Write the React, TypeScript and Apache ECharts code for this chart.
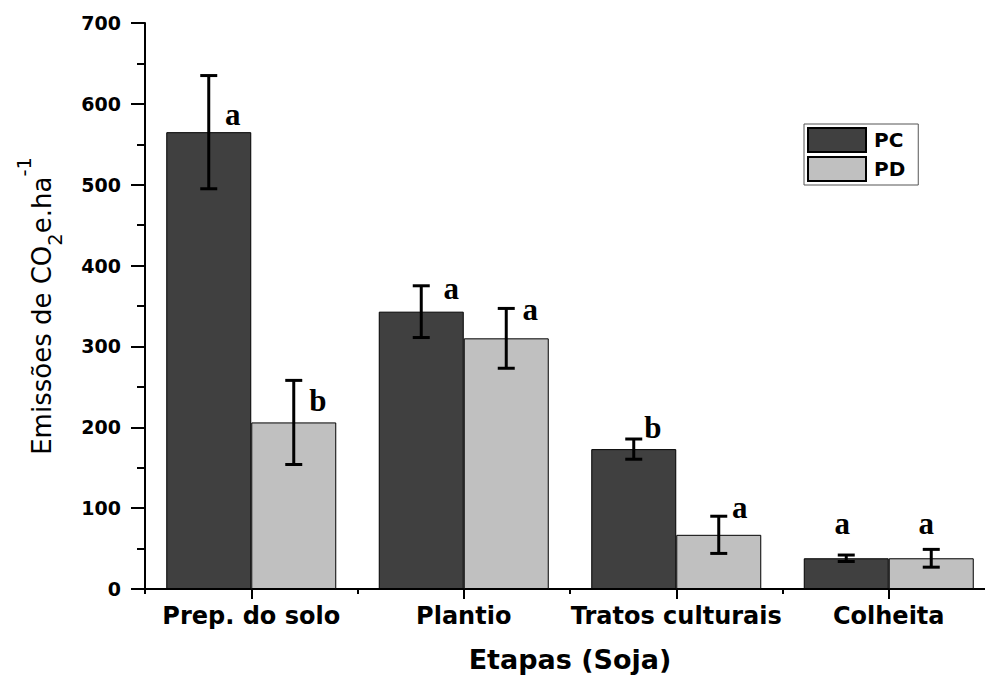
import React, { useEffect, useRef } from "react";
import * as echarts from "echarts";

const categories = ["Prep. do solo", "Plantio", "Tratos culturais", "Colheita"];
const pcValues = [565, 343, 173, 38];
const pdValues = [206, 310, 67, 38];
const pcErrors = [70, 32, 12.5, 4];
const pdErrors = [52, 37, 23, 11];
const pcLetters = ["a", "a", "b", "a"];
const pdLetters = ["b", "a", "a", "a"];
const pcLetterAt = [574, 359, 187, 69];
const pdLetterAt = [221, 333, 89, 69];

// layout-only: horizontal shift (px) of each significance letter from its bar centre
const pcLetterDx = [24, 30, 19, -4];
const pdLetterDx = [24, 24, 21, -5];

const SANS = '"DejaVu Sans"';
const SERIF = '"Liberation Serif"';

function errorSeries(values: number[], errors: number[], side: number) {
  return {
    type: "custom",
    xAxisIndex: 0,
    yAxisIndex: 0,
    silent: true,
    z: 5,
    encode: { x: 0, y: [1, 2] },
    data: values.map((v, i) => [i, v - errors[i], v + errors[i]]),
    renderItem: (params: any, api: any) => {
      const ci = api.value(0);
      const lo = api.coord([ci, api.value(1)]);
      const hi = api.coord([ci, api.value(2)]);
      const band = api.size([1, 0])[0];
      const x = lo[0] + side * band * 0.2;
      const cap = 8.5;
      const style = { stroke: "#000", lineWidth: 3 };
      return {
        type: "group",
        children: [
          { type: "line", shape: { x1: x, y1: lo[1], x2: x, y2: hi[1] }, style },
          { type: "line", shape: { x1: x - cap, y1: lo[1], x2: x + cap, y2: lo[1] }, style },
          { type: "line", shape: { x1: x - cap, y1: hi[1], x2: x + cap, y2: hi[1] }, style },
        ],
      };
    },
  };
}

function letterSeries(at: number[], letters: string[], dx: number[], side: number) {
  return {
    type: "custom",
    xAxisIndex: 0,
    yAxisIndex: 0,
    silent: true,
    z: 6,
    encode: { x: 0, y: 1 },
    data: at.map((v, i) => [i, v]),
    renderItem: (params: any, api: any) => {
      const ci = api.value(0);
      const p = api.coord([ci, api.value(1)]);
      const band = api.size([1, 0])[0];
      const x = p[0] + side * band * 0.2 + dx[params.dataIndex];
      return {
        type: "text",
        x,
        y: p[1] - 10,
        style: {
          text: letters[params.dataIndex],
          fill: "#000",
          font: `bold 31px ${SERIF}`,
          textAlign: "center",
          textVerticalAlign: "middle",
        },
      };
    },
  };
}

export default function App() {
  const ref = useRef<HTMLDivElement>(null);

  useEffect(() => {
    if (!ref.current) return;
    const chart = echarts.init(ref.current, null, { renderer: "svg" });
    chart.setOption({
      animation: false,
      backgroundColor: "#fff",
      grid: { left: 145, top: 23, right: 0, bottom: 90, containLabel: false },
      legend: {
        orient: "vertical",
        left: 804,
        top: 124,
        itemWidth: 58,
        itemHeight: 24,
        itemGap: 3,
        padding: [3, 13, 3, 3],
        borderColor: "#555",
        borderWidth: 1,
        icon: "rect",
        data: ["PC", "PD"],
        textStyle: {
          fontFamily: SANS,
          fontWeight: "bold",
          fontSize: 20,
          lineHeight: 24,
          color: "#000",
          padding: [0, 0, 0, 3],
        },
      },
      xAxis: [
        {
          type: "category",
          data: categories,
          position: "bottom",
          axisLine: { show: true, lineStyle: { color: "#000", width: 2 } },
          axisTick: { show: true, alignWithLabel: true, length: 10, lineStyle: { color: "#000", width: 2 } },
          axisLabel: { interval: 0, margin: 15, fontFamily: SANS, fontWeight: "bold", fontSize: 24, color: "#000" },
          name: "Etapas (Soja)",
          nameLocation: "middle",
          nameGap: 57,
          nameTextStyle: { fontFamily: SANS, fontWeight: "bold", fontSize: 27, color: "#000" },
        },
        {
          type: "category",
          data: categories,
          position: "bottom",
          axisLine: { show: false },
          axisTick: { show: true, interval: 0, length: 5, lineStyle: { color: "#000", width: 2 } },
          axisLabel: { show: false },
        },
      ],
      yAxis: {
        type: "value",
        min: 0,
        max: 700,
        interval: 100,
        splitLine: { show: false },
        axisLine: { show: true, lineStyle: { color: "#000", width: 2 } },
        axisTick: { show: true, length: 14, lineStyle: { color: "#000", width: 2 } },
        minorTick: { show: true, splitNumber: 2, length: 8, lineStyle: { color: "#000", width: 2 } },
        axisLabel: { margin: 24, fontFamily: SANS, fontWeight: "bold", fontSize: 19, color: "#000" },
        name: "{t|Emissões de CO}{sub|2}{t|e.ha}{sup|-1}",
        nameLocation: "middle",
        nameGap: 75,
        nameRotate: 90,
        nameTextStyle: {
          rich: {
            t: { fontFamily: SANS, fontSize: 26, color: "#000", lineHeight: 56 },
            sub: { fontFamily: SANS, fontSize: 19.5, color: "#000", verticalAlign: "bottom", padding: [0, 0, 5, 0] },
            sup: { fontFamily: SANS, fontSize: 19.5, color: "#000", verticalAlign: "top" },
          },
        },
      },
      series: [
        {
          name: "PC",
          type: "bar",
          xAxisIndex: 0,
          data: pcValues,
          barWidth: "40%",
          barGap: "0%",
          itemStyle: { color: "#404040", borderColor: "#000", borderWidth: 1 },
        },
        {
          name: "PD",
          type: "bar",
          xAxisIndex: 0,
          data: pdValues,
          barWidth: "40%",
          barGap: "0%",
          itemStyle: { color: "#c0c0c0", borderColor: "#000", borderWidth: 1 },
        },
        errorSeries(pcValues, pcErrors, -1),
        errorSeries(pdValues, pdErrors, 1),
        letterSeries(pcLetterAt, pcLetters, pcLetterDx, -1),
        letterSeries(pdLetterAt, pdLetters, pdLetterDx, 1),
      ],
    });
    return () => chart.dispose();
  }, []);

  return (
    <div
      style={{
        position: "absolute",
        left: 0,
        top: 0,
        width: 985,
        height: 679,
        overflow: "hidden",
        background: "#fff",
      }}
    >
      <div ref={ref} style={{ width: 995, height: 679 }} />
    </div>
  );
}
